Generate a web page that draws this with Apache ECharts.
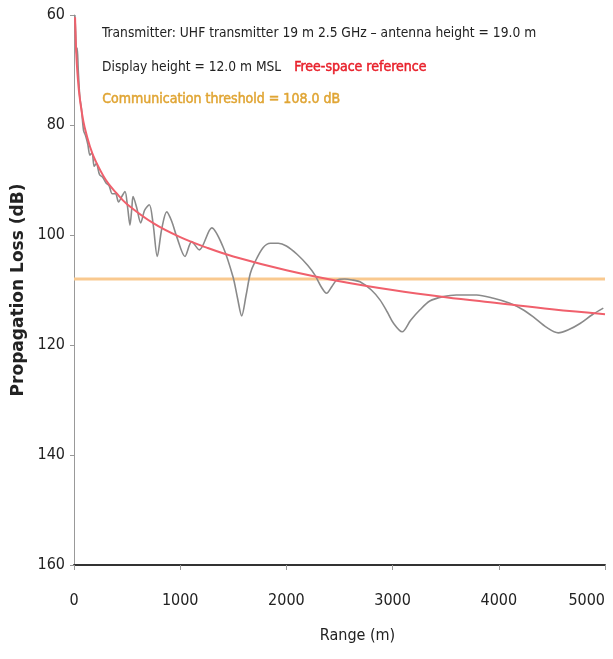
<!DOCTYPE html>
<html>
<head>
<meta charset="utf-8">
<script src="https://cdn.jsdelivr.net/npm/echarts@6/dist/echarts.min.js"></script>
<style>html,body{margin:0;padding:0;background:#fff;}#c{width:613px;height:659px;}</style>
</head>
<body>
<div id="c"></div>
<script>
// Range (m) / loss (dB) pairs
const xTicks = [0, 1000, 2000, 3000, 4000, 5000];
const yTicks = [60, 80, 100, 120, 140, 160];
const threshold = 108.0;
const lossRange = [8,15,22,30,40,55,70,90,110,130,150,170,190,210,240,270,300,330,360,390,420,450,480,505,527,545,556,590,628,665,709,745,784,825,873,920,967,1045,1108,1180,1297,1400,1497,1540,1579,1620,1660,1704,1780,1850,1924,2000,2100,2200,2269,2330,2378,2430,2474,2550,2627,2693,2800,2881,2950,3007,3090,3170,3258,3350,3477,3600,3792,3950,4105,4220,4325,4450,4560,4660,4765,4880,4984];
const lossValue = [60,63,67,66,70,75,77,81,82,83.5,85.5,85,87.5,87,89,89.5,90.5,91,92.5,92.5,94,93,92.1,95,98.2,95,93.0,95,97.8,95.5,94.5,98,103.9,99,95.8,97.5,100.3,103.9,101.2,102.7,98.7,102,107.6,111.5,114.7,111,107,104.9,102.3,101.5,101.5,102,103.5,105.5,107.3,109.5,110.6,109.3,108.2,108,108.2,108.5,110,111.8,114,116,117.6,115.5,113.6,112,111.2,110.9,110.9,111.5,112.4,113.5,114.9,116.8,117.8,117.2,116.1,114.5,113.3];
const fsRange = [10,15,20,30,50,75,100,150,200,300,400,500,750,1000,1250,1500,2000,2500,3000,3500,4000,4500,5000];
const fsValue = [60.4,63.9,66.4,69.9,74.4,77.9,80.4,83.9,86.4,90.0,92.4,94.4,97.9,100.4,102.3,103.9,106.4,108.4,110.0,111.3,112.4,113.5,114.4];

const lossData = lossRange.map((x, i) => [x, lossValue[i]]);
const fsData = fsRange.map((x, i) => [x, fsValue[i]]);
const thrData = [[xTicks[0], threshold], [xTicks[xTicks.length - 1], threshold]];

const NARROW = '"Liberation Sans Narrow", "DejaVu Sans Condensed", "Roboto Condensed", sans-serif';
const chart = echarts.init(document.getElementById('c'), null, {renderer: 'canvas'});
chart.setOption({
  animation: false,
  backgroundColor: '#fff',
  grid: {left: 74, right: 8, top: 15, bottom: 94, containLabel: false, outerBoundsMode: 'none'},
  xAxis: {
    type: 'value', min: 0, max: 5000, interval: 1000,
    name: 'Range (m)', nameLocation: 'middle', nameGap: 63,
    nameTextStyle: {fontFamily: NARROW, fontSize: 16, color: '#222', padding: [0, 0, 0, 36]},
    axisLine: {show: true, lineStyle: {color: '#333', width: 2}},
    axisTick: {show: true, length: 5, lineStyle: {color: '#999'}},
    axisLabel: {fontFamily: NARROW, fontSize: 16, color: '#222', margin: 28, alignMaxLabel: 'right', formatter: v => String(v)},
    splitLine: {show: false}
  },
  yAxis: {
    type: 'value', min: 60, max: 160, interval: 20, inverse: true,
    name: 'Propagation Loss (dB)', nameLocation: 'middle', nameRotate: 90, nameGap: 46,
    nameTextStyle: {fontFamily: '"DejaVu Sans", Verdana, sans-serif', fontWeight: 'bold', fontSize: 17, color: '#222'},
    axisLine: {show: true, onZero: false, lineStyle: {color: '#999', width: 1}},
    axisTick: {show: true, length: 4, lineStyle: {color: '#999'}},
    axisLabel: {fontFamily: NARROW, fontSize: 16, color: '#222', margin: 9},
    splitLine: {show: false}
  },
  series: [
    {type: 'line', name: 'threshold', data: thrData, symbol: 'none', lineStyle: {color: '#f9c98f', width: 3}, z: 1},
    {type: 'line', name: 'loss', data: lossData, symbol: 'none', smooth: 0.3, lineStyle: {color: '#8a8a8a', width: 1.6}, z: 2},
    {type: 'line', name: 'free', data: fsData, symbol: 'none', smooth: 0.4, lineStyle: {color: '#f0606c', width: 2}, z: 3}
  ],
  graphic: [
    {type: 'text', left: 102, top: 26, style: {text: 'Transmitter: UHF transmitter 19 m 2.5 GHz \u2013 antenna height = 19.0 m', font: '13.7px ' + NARROW, fill: '#222'}},
    {type: 'text', left: 102, top: 60, style: {text: 'Display height = 12.0 m MSL', font: '13.7px ' + NARROW, fill: '#222'}},
    {type: 'text', left: 294, top: 60, style: {text: 'Free-space reference', font: '14px ' + NARROW, fill: '#e8212b', stroke: '#e8212b', lineWidth: 0.5}},
    {type: 'text', left: 102, top: 92, style: {text: 'Communication threshold = 108.0 dB', font: '14px ' + NARROW, fill: '#e0a534', stroke: '#e0a534', lineWidth: 0.5}}
  ]
});
</script>
</body>
</html>
